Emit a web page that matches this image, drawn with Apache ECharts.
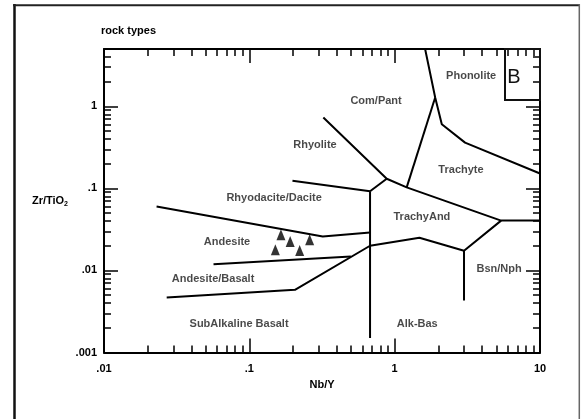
<!DOCTYPE html>
<html><head><meta charset="utf-8">
<script src="https://cdn.jsdelivr.net/npm/echarts@6/dist/echarts.min.js"></script>
<style>html,body{margin:0;padding:0;background:#fff}#c{width:581px;height:419px}</style>
</head><body><div id="c"></div>
<script>
// ---- tick labels ----
const xTickValues = [0.01, 0.1, 1, 10];
const xTickLabels = ['.01', '.1', '1', '10'];
const yTickValues = [0.001, 0.01, 0.1, 1];
const yTickLabels = ['.001', '.01', '.1', '1'];

// ---- field boundaries: [Nb/Y, Zr/TiO2] ----
const phonoliteLine = [[1.62, 5], [1.90, 1.28], [2.11, 0.604], [3.05, 0.361], [10, 0.152]];
const comPantTrachyteLine = [[1.90, 1.28], [1.21, 0.103]];
const rhyoliteLine = [[0.323, 0.73], [0.882, 0.131], [1.21, 0.103], [5.4, 0.0405], [10, 0.0405]];
const rhyoliteStub = [[0.882, 0.131], [0.677, 0.0924]];
const daciteTop = [[0.198, 0.124], [0.677, 0.0924]];
const alkalineDivide = [[0.677, 0.0924], [0.677, 0.0015]];
const andesiteTop = [[0.0230, 0.0603], [0.32, 0.026], [0.677, 0.029]];
const andesiteBase = [[0.0567, 0.0119], [0.50, 0.0148]];
const basaltTop = [[0.027, 0.00469], [0.206, 0.0058], [0.677, 0.020], [1.48, 0.025], [3.0, 0.0174], [5.4, 0.0405]];
const bsnNphDivide = [[3.0, 0.0174], [3.0, 0.0043]];
const boundaries = [phonoliteLine, comPantTrachyteLine, rhyoliteLine, rhyoliteStub, daciteTop,
  alkalineDivide, andesiteTop, andesiteBase, basaltTop, bsnNphDivide];

// ---- field names ----
const fieldNames = ['Phonolite', 'Com/Pant', 'Rhyolite', 'Trachyte', 'Rhyodacite/Dacite', 'TrachyAnd',
  'Andesite', 'Andesite/Basalt', 'Bsn/Nph', 'SubAlkaline Basalt', 'Alk-Bas'];
const fieldNbY = [3.36, 0.745, 0.283, 2.86, 0.148, 1.54, 0.0702, 0.0563, 5.23, 0.085, 1.43];
const fieldZrTi = [2.33, 1.15, 0.334, 0.17, 0.0774, 0.0454, 0.0224, 0.0079, 0.0105, 0.00223, 0.00223];

// ---- samples ----
const sampleNbY = [0.165, 0.191, 0.151, 0.222, 0.26];
const sampleZrTi = [0.0273, 0.0226, 0.0179, 0.0175, 0.0237];

const FONT = 'Liberation Sans, Arial, sans-serif';

function fmt(values, labels) {
  return function (v) {
    for (let i = 0; i < values.length; i++) {
      if (Math.abs(Math.log10(values[i]) - Math.log10(v)) < 1e-6) return labels[i];
    }
    return '';
  };
}

function axisBase(isY, pos, showLabel) {
  return {
    type: 'log',
    logBase: 10,
    min: isY ? 0.001 : 0.01,
    max: isY ? 5 : 10,
    position: pos,
    axisLine: { show: true, onZero: false, lineStyle: { color: '#000', width: 2 } },
    axisTick: { show: true, inside: true, length: 14, lineStyle: { color: '#000', width: 1.5 } },
    minorTick: { show: true, splitNumber: 9, length: 7, lineStyle: { color: '#000', width: 1.5 } },
    splitLine: { show: false },
    minorSplitLine: { show: false },
    axisLabel: {
      show: showLabel,
      showMaxLabel: !isY,
      margin: isY ? 7 : 11,
      fontSize: 11,
      fontWeight: 'bold',
      fontFamily: FONT,
      color: '#000',
      formatter: isY ? fmt(yTickValues, yTickLabels) : fmt(xTickValues, xTickLabels)
    }
  };
}

const chart = echarts.init(document.getElementById('c'), null, { renderer: 'canvas' });

const xBottom = Object.assign(axisBase(false, 'bottom', true), {
  name: 'Nb/Y', nameLocation: 'middle', nameGap: 24,
  nameTextStyle: { fontSize: 11, fontWeight: 'bold', fontFamily: FONT, color: '#000' }
});
const xTop = axisBase(false, 'top', false);
const yLeft = Object.assign(axisBase(true, 'left', true), {
  name: '{a|Zr/TiO}{b|2}', nameLocation: 'middle', nameGap: 36, nameRotate: 0,
  nameTextStyle: {
    fontSize: 11, fontFamily: FONT, color: '#000',
    rich: {
      a: { fontSize: 11, fontWeight: 'bold', fontFamily: FONT, color: '#000' },
      b: { fontSize: 7, fontWeight: 'bold', fontFamily: FONT, color: '#000', padding: [6, 0, 0, 0] }
    }
  }
});
const yRight = axisBase(true, 'right', false);

const series = boundaries.map(function (pts) {
  return {
    type: 'line', xAxisIndex: 0, yAxisIndex: 0, data: pts, symbol: 'none', silent: true,
    lineStyle: { color: '#000', width: 2 }, animation: false, z: 3
  };
});

series.push({
  type: 'scatter', xAxisIndex: 0, yAxisIndex: 0,
  data: fieldNames.map(function (n, i) { return { name: n, value: [fieldNbY[i], fieldZrTi[i]] }; }),
  symbolSize: 1, itemStyle: { color: 'rgba(0,0,0,0)' }, silent: true, animation: false,
  label: {
    show: true, position: 'inside', formatter: '{b}',
    fontSize: 11, fontWeight: 'bold', fontFamily: FONT, color: '#1a1a1a'
  }, z: 4
});

series.push({
  type: 'scatter', xAxisIndex: 0, yAxisIndex: 0,
  data: sampleNbY.map(function (x, i) { return [x, sampleZrTi[i]]; }),
  symbol: 'triangle', symbolSize: [9, 11], itemStyle: { color: '#000' }, animation: false, z: 5
});

chart.setOption({
  animation: false,
  backgroundColor: '#fff',
  title: {
    text: 'rock types', left: 101, top: 25, padding: 0,
    textStyle: { fontSize: 11, fontWeight: 'bold', fontFamily: FONT, color: '#000' }
  },
  grid: { left: 104, top: 49, width: 436, height: 303.5, containLabel: false },
  xAxis: [xBottom, xTop],
  yAxis: [yLeft, yRight],
  series: series,
  graphic: [
    { type: 'line', shape: { x1: 14.5, y1: 4, x2: 14.5, y2: 419 }, style: { stroke: '#111', lineWidth: 2.5 }, z: 10 },
    { type: 'line', shape: { x1: 13, y1: 5.3, x2: 580, y2: 5.3 }, style: { stroke: '#222', lineWidth: 2 }, z: 10 },
    { type: 'line', shape: { x1: 579.3, y1: 4, x2: 579.3, y2: 419 }, style: { stroke: '#666', lineWidth: 1.5 }, z: 10 },
    { type: 'rect', shape: { x: 505, y: 49, width: 35, height: 51 }, style: { stroke: '#111', lineWidth: 2, fill: null }, z: 10 },
    { type: 'text', x: 514, y: 77, style: { text: 'B', fontSize: 20, fontFamily: FONT, fill: '#111', align: 'center', verticalAlign: 'middle' }, z: 10 }
  ]
});
</script>
</body></html>
